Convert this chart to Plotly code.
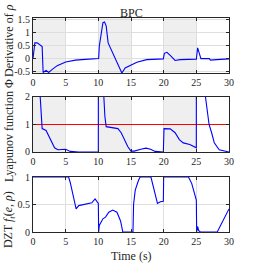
import plotly.graph_objects as go

# ---- data ----
t_drho = [0, 0.1, 0.28, 0.64, 1.15, 1.4, 1.5, 1.55, 2.0, 2.4, 2.9, 3.7, 5.0, 6.5, 8.0, 10.0,
          10.05, 10.15, 10.45, 10.7, 10.95, 11.2, 11.5, 12.5, 13.6, 14.1, 14.9, 15.9, 17.4, 19.95,
          20.1, 20.5, 21.0, 21.75, 22.5, 25.0, 25.2, 25.45, 25.7, 27.0, 27.15, 28.1, 30]
drho = [0.0, 0.35, 0.6, 0.6, 0.5, 0.46, -0.2, -0.53, -0.45, -0.53, -0.42, -0.27, -0.13, -0.06, -0.03, -0.01,
        0.0, 0.47, 0.98, 1.37, 1.4, 1.25, 0.6, 0.05, -0.55, -0.36, -0.27, -0.14, -0.04, -0.01,
        0.2, 0.24, 0.12, -0.07, -0.04, -0.02, 0.41, 0.15, 0.0, 0.0, -0.06, -0.04, -0.01]

t_phi = [0, 0.5, 1.0, 1.1, 1.4, 2.0, 2.5, 2.9, 3.3, 3.8, 4.3, 5.0, 5.7, 7.0, 10.0,
         10.03, 10.4, 10.8, 11.0, 11.2, 12.0, 13.0, 13.5, 14.0, 14.5, 15.0, 15.5, 16.5, 17.3, 18.0, 18.7, 19.95,
         20.05, 21.0, 21.75, 22.4, 23.0, 24.0, 24.8, 25.0,
         25.03, 25.8, 26.4, 26.8, 26.95, 27.35, 27.75, 28.5, 29.4, 30]
phi = [12, 4, 2.4, 2.0, 0.85, 0.78, 0.55, 0.33, 0.15, 0.08, 0.08, 0.1, 0.02, 0.0, 0.0,
       20, 4, 2.0, 1.3, 0.92, 0.88, 0.85, 0.7, 0.45, 0.2, 0.03, 0.03, 0.1, 0.14, 0.1, 0.02, 0.0,
       0.85, 0.84, 0.7, 0.45, 0.33, 0.27, 0.18, 0.15,
       20, 4, 2.0, 1.2, 1.0, 0.69, 0.33, 0.08, 0.02, 0.0]

t_dzt = [0, 5.45, 5.7, 6.2, 6.6, 7.0, 8.0, 9.0, 9.5, 9.9, 10.0, 10.05, 10.15, 10.7, 11.1, 11.6, 12.2,
         12.85, 13.4, 13.75, 15.3, 15.4, 15.65, 16.15, 16.4, 18.05, 18.7, 19.05, 19.5, 19.95, 20.0,
         23.8, 24.3, 24.8, 25.0, 25.05, 25.2, 25.35, 25.6, 28.2, 30]
dzt = [1, 1, 0.9, 0.64, 0.42, 0.48, 0.51, 0.53, 0.6, 0.55, 0.52, 0, 0.12, 0.24, 0.27, 0.36, 0.4,
       0.36, 0.2, 0, 0, 0.51, 0.76, 0.94, 1, 1, 0.7, 0.52, 0.55, 0.56, 1,
       1, 0.88, 0.67, 0.58, 0, 0.1, 0.03, 0, 0, 0.42]

shade_start = [0, 10, 20]
shade_end = [5, 15, 25]
threshold = 1
x_ticks = [0, 5, 10, 15, 20, 25, 30]

FONT = "Liberation Serif, Times New Roman, serif"
BLUE = "#0000FF"

fig = go.Figure()
fig.add_trace(go.Scatter(x=t_drho, y=drho, mode="lines", line=dict(color=BLUE, width=1.1),
                         xaxis="x", yaxis="y"))
fig.add_trace(go.Scatter(x=[0, 30], y=[threshold, threshold], mode="lines",
                         line=dict(color="#FF0000", width=1.1), xaxis="x2", yaxis="y2"))
fig.add_trace(go.Scatter(x=t_phi, y=phi, mode="lines", line=dict(color=BLUE, width=1.1),
                         xaxis="x2", yaxis="y2"))
fig.add_trace(go.Scatter(x=t_dzt, y=dzt, mode="lines", line=dict(color=BLUE, width=1.1),
                         xaxis="x3", yaxis="y3"))

shapes = []
for xr, yr in [("x", "y"), ("x2", "y2")]:
    for s, e in zip(shade_start, shade_end):
        shapes.append(dict(type="rect", xref=xr, yref=yr + " domain", x0=s, x1=e, y0=0, y1=1,
                           fillcolor="#EFEFEF", line=dict(width=0), layer="below"))

ax = dict(showline=True, linecolor="#262626", linewidth=1, mirror="ticks", ticks="inside",
          ticklen=3, tickcolor="#262626", showgrid=True, gridcolor="#DEDEDE", gridwidth=1,
          zeroline=False, tickfont=dict(family=FONT, size=10, color="#262626"))

xax = dict(ax, range=[0, 30], tickvals=x_ticks, ticktext=[str(v) for v in x_ticks])

layout = dict(
    width=254, height=263, margin=dict(l=33, r=25, t=18, b=31),
    paper_bgcolor="white", plot_bgcolor="white", showlegend=False,
    font=dict(family=FONT, size=12, color="#262626"),
    shapes=shapes,
    xaxis=dict(xax, domain=[0, 1], anchor="y"),
    xaxis2=dict(xax, domain=[0, 1], anchor="y2"),
    xaxis3=dict(xax, domain=[0, 1], anchor="y3"),
    yaxis=dict(ax, domain=[0.743, 1], range=[-0.55, 1.55], tickvals=[-0.5, 0, 0.5, 1, 1.5],
               ticktext=["-0.5", "0", "0.5", "1", "1.5"], anchor="x"),
    yaxis2=dict(ax, domain=[0.374, 0.631], range=[0, 2], tickvals=[0, 1, 2],
                ticktext=["0", "1", "2"], anchor="x2"),
    yaxis3=dict(ax, domain=[0, 0.257], range=[0, 1], tickvals=[0, 0.5, 1],
                ticktext=["0", "0.5", "1"], anchor="x3"),
    annotations=[
        dict(text="BPC", x=0.5, y=1.023, xref="paper", yref="paper", showarrow=False,
             xanchor="center", yanchor="middle", font=dict(family=FONT, size=12)),
        dict(text="Derivative of <i>ρ</i>", x=-0.122, y=0.893, xref="paper", yref="paper",
             showarrow=False, textangle=-90, xanchor="center", yanchor="middle",
             font=dict(family=FONT, size=12)),
        dict(text="Lyapunov function Φ", x=-0.122, y=0.472, xref="paper", yref="paper",
             showarrow=False, textangle=-90, xanchor="center", yanchor="middle",
             font=dict(family=FONT, size=12)),
        dict(text="DZT <i>f<sub>t</sub></i>(<i>e</i>, <i>ρ</i>)", x=-0.122, y=0.056, xref="paper",
             yref="paper", showarrow=False, textangle=-90, xanchor="center", yanchor="middle",
             font=dict(family=FONT, size=12)),
        dict(text="Time (s)", x=0.5, y=-0.112, xref="paper", yref="paper", showarrow=False,
             xanchor="center", yanchor="middle", font=dict(family=FONT, size=12)),
    ],
)
fig.update_layout(layout)
fig.write_html("out.html", config={"displayModeBar": False},
               post_script="document.body.style.margin='0';document.body.style.overflow='hidden';")
